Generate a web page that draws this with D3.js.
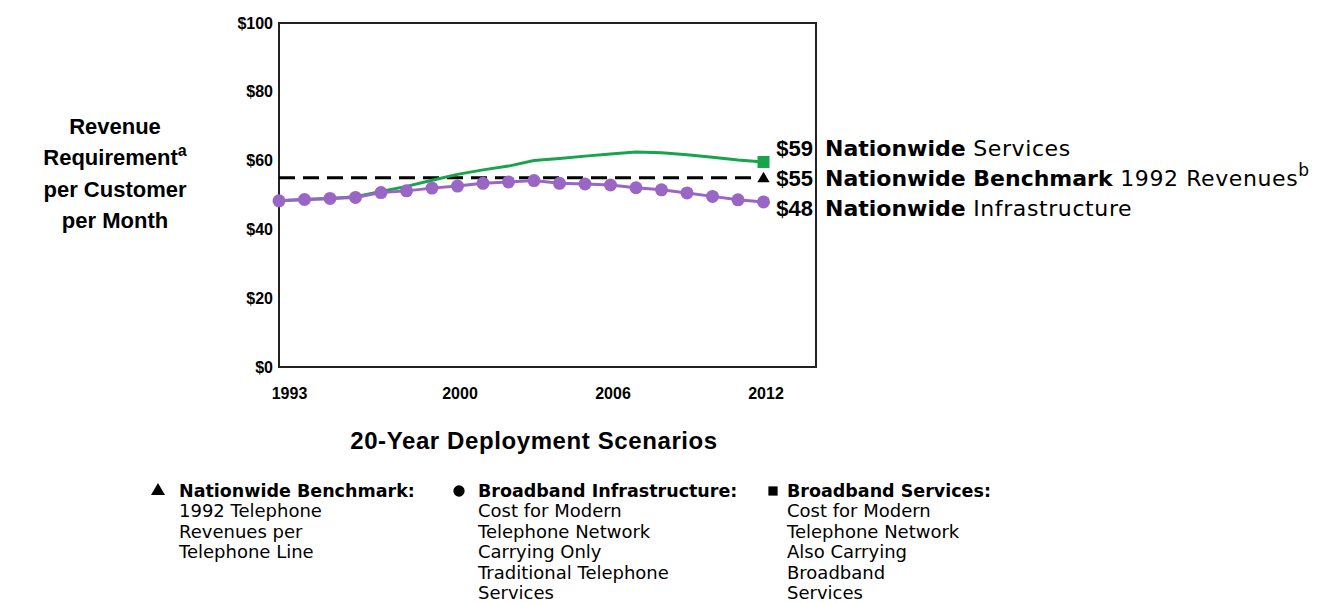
<!DOCTYPE html>
<html>
<head>
<meta charset="utf-8">
<script src="https://cdnjs.cloudflare.com/ajax/libs/d3/7.8.5/d3.min.js"></script>
<style>
	body { margin: 0; background: #fff; }
	.tick line { display: none; }
	.domain { display: none; }
	.axis text { font-family: "Liberation Sans", Arial, sans-serif; font-weight: bold; font-size: 16px; fill: #000; }
</style>
</head>
<body>
<svg class="chart"></svg>
<script>
var years = [1993, 1994, 1995, 1996, 1997, 1998, 1999, 2000, 2001, 2002,
	2003, 2004, 2005, 2006, 2007, 2008, 2009, 2010, 2011, 2012];
var infrastructure = [48.3, 48.7, 49.0, 49.3, 50.7, 51.2, 52.0, 52.6, 53.4, 53.8,
	54.2, 53.4, 53.2, 52.9, 52.1, 51.5, 50.6, 49.6, 48.6, 48.0];
var services = [48.3, 48.7, 49.0, 49.5, 51.0, 52.5, 54.3, 56.0, 57.3, 58.4,
	60.0, 60.6, 61.3, 61.9, 62.5, 62.3, 61.7, 61.0, 60.2, 59.6];
var benchmark = 55;

var yTicks = [0, 20, 40, 60, 80, 100];
var xTicks = [1993, 2000, 2006, 2012];

var endValues = ["$59", "$55", "$48"];
var endBold = ["Nationwide", "Nationwide Benchmark", "Nationwide"];
var endRest = ["Services", "1992 Revenues", "Infrastructure"];

var yTitle = ["Revenue", "Requirement", "per Customer", "per Month"];
var xTitle = "20-Year Deployment Scenarios";

var legendTitles = ["Nationwide Benchmark:", "Broadband Infrastructure:", "Broadband Services:"];
var legendLines = [
	["1992 Telephone", "Revenues per", "Telephone Line"],
	["Cost for Modern", "Telephone Network", "Carrying Only", "Traditional Telephone", "Services"],
	["Cost for Modern", "Telephone Network", "Also Carrying", "Broadband", "Services"]
];
var legendSymbols = [d3.symbolTriangle, d3.symbolCircle, d3.symbolSquare];

var width = 1327,
	height = 603,
	plotLeft = 279,
	plotRight = 816,
	plotTop = 23,
	plotBottom = 367,
	green = "#16a54a",
	purple = "#9a66c6";

var x = d3.scaleLinear()
	.domain([1993, 2012])
	.range([plotLeft, 763.5]);

var y = d3.scaleLinear()
	.domain([0, 100])
	.range([plotBottom, plotTop]);

var chart = d3.select(".chart")
	.attr("width", width)
	.attr("height", height)
	.style("font-family", "'DejaVu Sans', sans-serif");

chart.append("rect")
	.attr("width", width)
	.attr("height", height)
	.attr("fill", "#fff");

// axes (labels only, frame drawn separately)
chart.append("g")
	.attr("class", "axis")
	.attr("transform", "translate(" + plotLeft + ",0)")
	.call(d3.axisLeft(y).tickValues(yTicks).tickSize(0).tickPadding(6)
		.tickFormat(function(d) { return "$" + d; }));

var xAxis = chart.append("g")
	.attr("class", "axis")
	.attr("transform", "translate(0," + plotBottom + ")")
	.call(d3.axisBottom(x).tickValues(xTicks).tickSize(0).tickPadding(21)
		.tickFormat(d3.format("d")));

xAxis.selectAll(".tick text")
	.attr("dx", function(d, i) { return i == 0 ? 10 : 2; });

chart.append("rect")
	.attr("x", plotLeft)
	.attr("y", plotTop)
	.attr("width", plotRight - plotLeft)
	.attr("height", plotBottom - plotTop)
	.attr("fill", "none")
	.attr("stroke", "#222")
	.attr("stroke-width", 2);

// benchmark
chart.append("line")
	.attr("x1", x(1993))
	.attr("x2", x(2012) - 8)
	.attr("y1", y(benchmark))
	.attr("y2", y(benchmark))
	.attr("stroke", "#000")
	.attr("stroke-width", 3)
	.attr("stroke-dasharray", "16,8");

chart.append("path")
	.attr("d", d3.symbol().type(d3.symbolTriangle).size(65))
	.attr("transform", "translate(" + x(2012) + "," + (y(benchmark) + 1) + ")")
	.attr("fill", "#000");

// services
var line = d3.line()
	.x(function(d, i) { return x(years[i]); })
	.y(function(d) { return y(d); });

chart.append("path")
	.datum(services)
	.attr("d", line)
	.attr("fill", "none")
	.attr("stroke", green)
	.attr("stroke-width", 3);

chart.append("rect")
	.attr("x", x(2012) - 6)
	.attr("y", y(services[services.length - 1]) - 6)
	.attr("width", 12)
	.attr("height", 12)
	.attr("fill", green);

// infrastructure
chart.append("path")
	.datum(infrastructure)
	.attr("d", line)
	.attr("fill", "none")
	.attr("stroke", purple)
	.attr("stroke-width", 3);

chart.selectAll(".dot")
	.data(infrastructure)
  .enter().append("circle")
	.attr("class", "dot")
	.attr("cx", function(d, i) { return x(years[i]); })
	.attr("cy", function(d) { return y(d); })
	.attr("r", 6.5)
	.attr("fill", purple);

// end labels
var endY = [y(benchmark) - 30, y(benchmark), y(benchmark) + 30];

endValues.forEach(function(v, i) {
	chart.append("text")
		.attr("x", 813)
		.attr("y", endY[i] + 8)
		.attr("text-anchor", "end")
		.style("font-family", "'Liberation Sans', Arial, sans-serif")
		.style("font-weight", "bold")
		.style("font-size", "22px")
		.text(v);

	var t = chart.append("text")
		.attr("x", 825)
		.attr("y", endY[i] + 8)
		.style("font-size", "22px");
	t.append("tspan")
		.style("font-weight", "bold")
		.text(endBold[i]);
	t.append("tspan")
		.style("letter-spacing", "0.6px")
		.text(" " + endRest[i]);
	if (i == 1) {
		t.append("tspan")
			.attr("dy", -10)
			.style("font-size", "17px")
			.text("b");
	}
});

// titles
var yt = chart.append("g")
	.style("font-family", "'Liberation Sans', Arial, sans-serif")
	.style("font-weight", "bold")
	.style("font-size", "22px")
	.attr("text-anchor", "middle");

yTitle.forEach(function(s, i) {
	var t = yt.append("text")
		.attr("x", 115)
		.attr("y", 134 + i * 31.3)
		.text(s);
	if (i == 1) {
		t.append("tspan")
			.attr("dy", -9)
			.style("font-size", "16px")
			.text("a");
	}
});

chart.append("text")
	.attr("x", 534)
	.attr("y", 449)
	.attr("text-anchor", "middle")
	.style("font-family", "'Liberation Sans', Arial, sans-serif")
	.style("font-weight", "bold")
	.style("font-size", "24px")
	.style("letter-spacing", "0.6px")
	.text(xTitle);

// legend
var legendX = [158, 459, 773];
var legendTextX = [179, 478, 787];

var legend = chart.selectAll(".legend")
	.data(legendTitles)
  .enter().append("g")
	.attr("class", "legend");

legend.append("path")
	.attr("d", function(d, i) { return d3.symbol().type(legendSymbols[i]).size(i == 1 ? 100 : 85)(); })
	.attr("transform", function(d, i) { return "translate(" + legendX[i] + ",491)"; })
	.attr("fill", "#000");

legend.append("text")
	.attr("x", function(d, i) { return legendTextX[i]; })
	.attr("y", 497)
	.style("font-weight", "bold")
	.style("font-size", "17.5px")
	.text(function(d) { return d; });

legend.each(function(d, i) {
	d3.select(this).selectAll(".line")
		.data(legendLines[i])
	  .enter().append("text")
		.attr("class", "line")
		.attr("x", legendTextX[i])
		.attr("y", function(s, j) { return 517 + j * 20.5; })
		.style("font-size", "18px")
		.text(function(s) { return s; });
});
</script>
</body>
</html>
